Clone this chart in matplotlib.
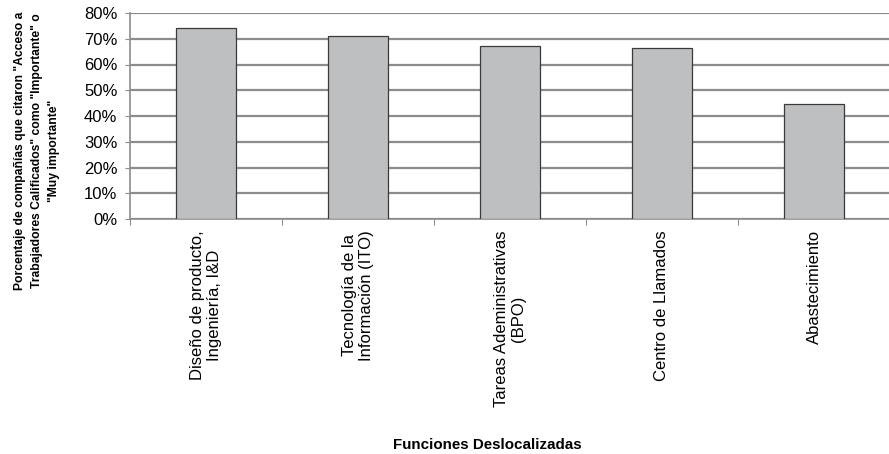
import matplotlib
matplotlib.use("Agg")
import matplotlib.pyplot as plt
import numpy as np

plt.rcParams["font.family"] = ["Liberation Sans", "DejaVu Sans"]

categories = [
    "Diseño de producto,\nIngeniería, I&D",
    "Tecnología de la\nInformación (ITO)",
    "Tareas Adeministrativas\n(BPO)",
    "Centro de Llamados",
    "Abastecimiento",
]
values = [74.3, 71.0, 67.1, 66.4, 44.8]
y_ticks = [0, 10, 20, 30, 40, 50, 60, 70, 80]

fig = plt.figure(figsize=(8.89, 4.54), dpi=100)
ax = fig.add_axes([130 / 889, 1 - 219 / 454, 760 / 889, 206 / 454])

x = np.arange(len(categories))
ax.bar(x, values, width=0.4, color="#bebfc1", edgecolor="#3a3a3a",
       linewidth=0.9, zorder=3)

ax.set_xlim(-0.5, len(categories) - 0.5)
ax.set_ylim(0, 80)
ax.set_yticks(y_ticks)
ax.set_yticklabels(["{}%".format(t) for t in y_ticks], fontsize=12)
ax.yaxis.grid(True, color="#8c8c8c", linewidth=1.6, zorder=0)

# category boundaries as ticks, labels in the middle
ax.set_xticks(np.arange(len(categories) + 1) - 0.5)
ax.set_xticklabels([])
ax.set_xticks(x, minor=True)
ax.set_xticklabels(categories, minor=True, rotation=90, fontsize=12,
                   ha="center", va="top")
ax.tick_params(axis="x", which="minor", length=0, pad=8)
ax.tick_params(axis="x", which="major", length=4, color="#8c8c8c")
ax.tick_params(axis="y", length=3.6, color="#8c8c8c", pad=5.5)

for side in ["top", "right"]:
    ax.spines[side].set_visible(False)
ax.spines["left"].set_color("#8c8c8c")
ax.spines["bottom"].set_color("#8c8c8c")
ax.spines["left"].set_linewidth(1.2)
ax.spines["bottom"].set_linewidth(1.2)

fig.text(37 / 889, 1 - 151 / 454,
         'Porcentaje de compañías que citaron "Acceso a\n'
         'Trabajadores Calificados" como "Importante" o\n'
         '"Muy importante"',
         rotation=90, ha="center", va="center", multialignment="center",
         fontsize=8.7, fontweight="bold", linespacing=1.55)
fig.text(487 / 889, 1 - 445 / 454, "Funciones Deslocalizadas",
         ha="center", va="center", fontsize=10.9, fontweight="bold")

fig.savefig("out.png", dpi=100)
